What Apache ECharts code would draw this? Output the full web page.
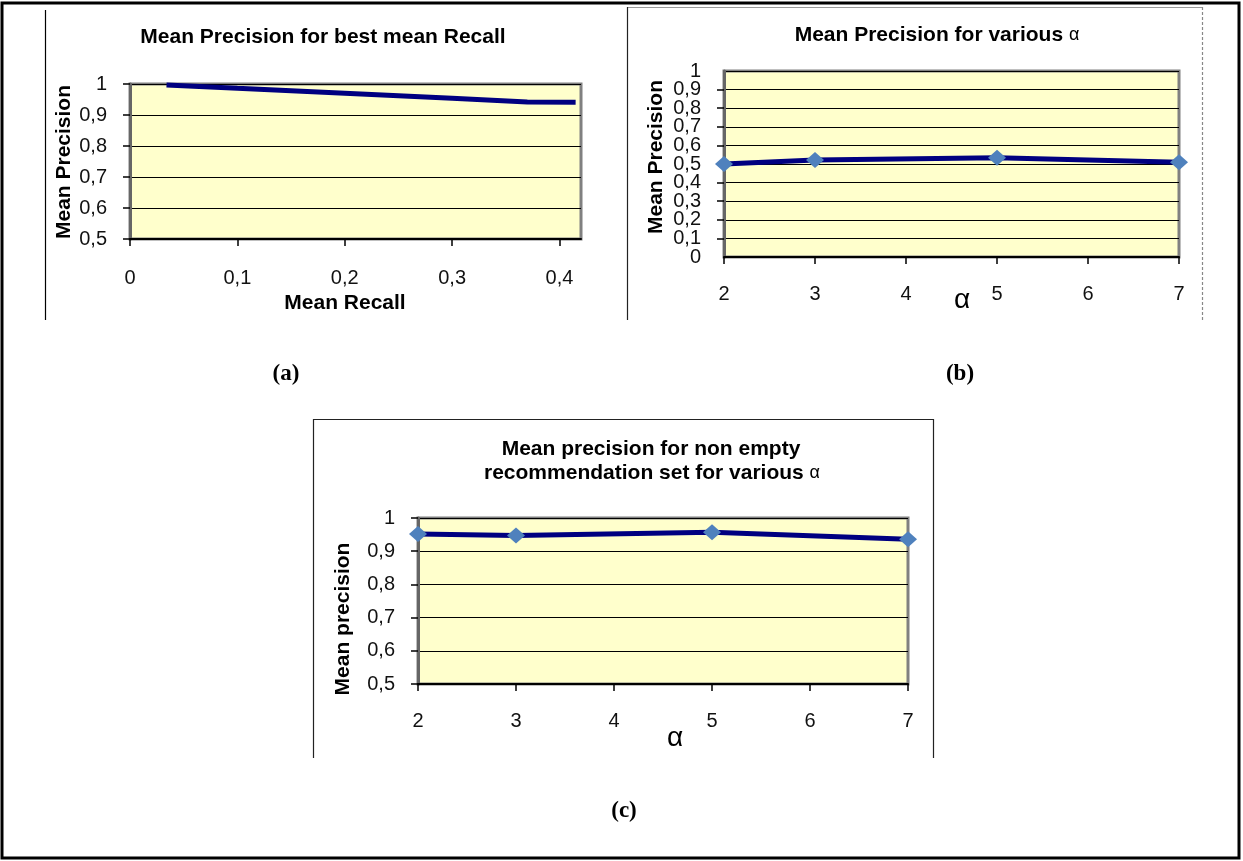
<!DOCTYPE html>
<html>
<head>
<meta charset="utf-8">
<script src="https://cdn.jsdelivr.net/npm/echarts@6/dist/echarts.min.js"></script>
<style>
html,body{margin:0;padding:0;background:#fff;}
#main{width:1243px;height:861px;}
</style>
</head>
<body>
<div id="main"></div>
<script>
// ---- data ----
const recallA = [0.034, 0.1, 0.2, 0.3, 0.37, 0.415];
const precisionA = [0.997, 0.986, 0.970, 0.954, 0.942, 0.941];

const alphaValues = [2, 3, 5, 7];
const precisionB = [0.500, 0.521, 0.534, 0.509];
const precisionC = [0.952, 0.947, 0.957, 0.936];

const titleA = 'Mean Precision for best mean Recall';
const titleB = 'Mean Precision for various ';
const titleC1 = 'Mean precision for non empty';
const titleC2 = 'recommendation set for various ';
const alpha = 'α';
const yNameAB = 'Mean Precision';
const yNameC = 'Mean precision';
const xNameA = 'Mean Recall';
const captions = ['(a)', '(b)', '(c)'];

// ---- rendering ----
const FONT = '"Liberation Sans", Arial, sans-serif';
const SERIF = '"Liberation Serif", "Times New Roman", serif';
const comma = v => String(Math.round(v * 10) / 10).replace('.', ',');
const chart = echarts.init(document.getElementById('main'), null, {renderer: 'canvas'});

function gridCfg(left, top, width, height) {
  return {left, top, width, height, show: true, backgroundColor: '#FFFFCC',
          borderColor: '#808080', borderWidth: 3, containLabel: false};
}
function xAxisCfg(gi, min, max, interval, margin, fmt) {
  return {type: 'value', gridIndex: gi, min, max, interval,
    axisLine: {show: true, onZero: false, lineStyle: {color: '#000', width: 2}},
    axisTick: {show: true, length: 7, inside: false, lineStyle: {color: '#000', width: 1.5}},
    splitLine: {show: false},
    axisLabel: {color: '#111', fontFamily: FONT, fontSize: 20, margin,
                showMinLabel: true, showMaxLabel: fmt ? false : true,
                formatter: fmt || (v => String(v))}};
}
function yAxisCfg(gi, min, max, interval, showEnds) {
  return {type: 'value', gridIndex: gi, min, max, interval,
    axisLine: {show: true, onZero: false, lineStyle: {color: '#666', width: 3}},
    axisTick: {show: true, length: 7, lineStyle: {color: '#000', width: 1.5}},
    splitLine: {show: true, lineStyle: {color: '#000', width: 1.2}},
    axisLabel: {color: '#111', fontFamily: FONT, fontSize: 20, margin: 23,
                showMinLabel: showEnds, showMaxLabel: showEnds, hideOverlap: false, formatter: comma}};
}
// extra label-only axis for the end values of the dense 0..1 axis in chart (b)
function yEndsAxisCfg(gi, min, max) {
  return {type: 'value', gridIndex: gi, min, max, interval: max - min, position: 'left',
    axisLine: {show: false}, axisTick: {show: false}, splitLine: {show: false},
    axisLabel: {color: '#111', fontFamily: FONT, fontSize: 20, margin: 23,
                showMinLabel: true, showMaxLabel: true, formatter: comma}};
}
function text(x, y, str, opts) {
  return Object.assign({type: 'text', x, y, z: 100,
    style: Object.assign({text: str, fill: '#000', align: 'center', verticalAlign: 'middle',
      font: 'bold 21px ' + FONT}, opts && opts.style)}, opts && opts.el);
}
function line(x1, y1, x2, y2, stroke, w, dash) {
  return {type: 'line', z: 100, shape: {x1, y1, x2, y2},
    style: {stroke, lineWidth: w, lineDash: dash || null}};
}
const richTitle = (s) => ({
  text: '{b|' + s + '}{a|' + alpha + '}',
  rich: {b: {font: 'bold 21px ' + FONT, fill: '#000'}, a: {font: '18px ' + FONT, fill: '#000'}}
});

const option = {
  animation: false,
  backgroundColor: '#fff',
  grid: [gridCfg(130, 84, 451, 155), gridCfg(724, 71, 455, 186), gridCfg(418, 518, 490, 166)],
  xAxis: [
    xAxisCfg(0, 0, 0.42, 0.1, 29, comma),
    xAxisCfg(1, 2, 7, 1, 27),
    xAxisCfg(2, 2, 7, 1, 27)
  ],
  yAxis: [
    yAxisCfg(0, 0.5, 1, 0.1, true),
    yAxisCfg(1, 0, 1, 0.1, false),
    yAxisCfg(2, 0.5, 1, 0.1, true),
    yEndsAxisCfg(1, 0, 1)
  ],
  series: [
    {type: 'line', xAxisIndex: 0, yAxisIndex: 0, showSymbol: false, symbol: 'none',
     data: recallA.map((r, i) => [r, precisionA[i]]),
     lineStyle: {color: '#000080', width: 5}, clip: false, z: 5},
    {type: 'line', xAxisIndex: 1, yAxisIndex: 1, symbol: 'diamond', symbolSize: [18, 16],
     data: alphaValues.map((a, i) => [a, precisionB[i]]),
     itemStyle: {color: '#4F81BD'}, lineStyle: {color: '#000080', width: 5}, clip: false, z: 5},
    {type: 'line', xAxisIndex: 2, yAxisIndex: 2, symbol: 'diamond', symbolSize: [18, 16],
     data: alphaValues.map((a, i) => [a, precisionC[i]]),
     itemStyle: {color: '#4F81BD'}, lineStyle: {color: '#000080', width: 5}, clip: false, z: 5}
  ],
  graphic: [
    // outer frame
    {type: 'rect', z: 100, shape: {x: 2, y: 3, width: 1237, height: 855},
     style: {fill: null, stroke: '#000', lineWidth: 3}},
    // chart (a) frame
    line(45.5, 10, 45.5, 320, '#000', 1.2),
    // chart (b) frame
    line(627, 7.5, 1202, 7.5, '#999', 1.2),
    line(627.5, 7, 627.5, 320, '#222', 1.2),
    line(1202.5, 7, 1202.5, 320, '#888', 1.2, [3, 2]),
    // chart (c) frame
    line(313, 419.5, 933, 419.5, '#222', 1.2),
    line(313.5, 419, 313.5, 758, '#222', 1.2),
    line(933.5, 419, 933.5, 758, '#222', 1.2),
    // titles
    text(323, 37, titleA),
    {type: 'text', x: 937, y: 35, z: 100,
     style: Object.assign({align: 'center', verticalAlign: 'middle'}, richTitle(titleB))},
    text(651, 449, titleC1),
    {type: 'text', x: 652, y: 473, z: 100,
     style: Object.assign({align: 'center', verticalAlign: 'middle'}, richTitle(titleC2))},
    // axis names
    text(64, 162, yNameAB, {el: {rotation: Math.PI / 2}}),
    text(345, 303, xNameA),
    text(656, 157, yNameAB, {el: {rotation: Math.PI / 2}}),
    text(962, 300, alpha, {style: {font: '28px ' + FONT}}),
    text(343, 619, yNameC, {el: {rotation: Math.PI / 2}}),
    text(675, 738, alpha, {style: {font: '28px ' + FONT}}),
    // captions
    text(286, 374, captions[0], {style: {font: 'bold 23px ' + SERIF}}),
    text(960, 374, captions[1], {style: {font: 'bold 23px ' + SERIF}}),
    text(624, 811, captions[2], {style: {font: 'bold 23px ' + SERIF}})
  ]
};
chart.setOption(option);
</script>
</body>
</html>
